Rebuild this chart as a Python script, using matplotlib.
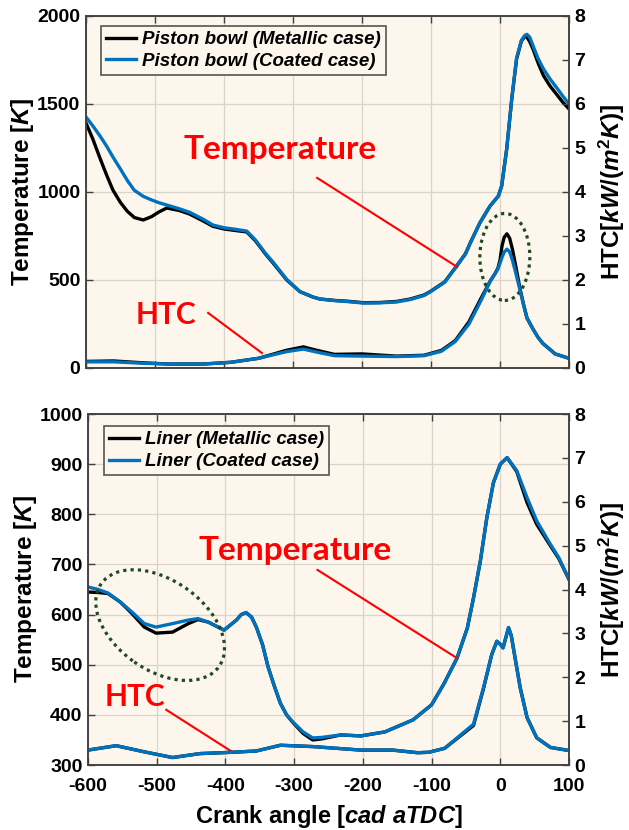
import matplotlib
matplotlib.use("Agg")
import matplotlib.pyplot as plt
from matplotlib.patches import Ellipse
from matplotlib.transforms import ScaledTranslation

plt.rcParams['font.family'] = ['Liberation Sans', 'DejaVu Sans']
plt.rcParams['axes.unicode_minus'] = False
plt.rcParams['mathtext.fontset'] = 'custom'
plt.rcParams['mathtext.rm'] = 'Liberation Sans:bold'
plt.rcParams['mathtext.it'] = 'Liberation Sans:italic:bold'
plt.rcParams['mathtext.bf'] = 'Liberation Sans:bold'

# ---- piston bowl (top) ----
pb_ang_T = [-600, -590, -580, -570, -561, -550, -540, -530, -517, -505, -495, -483, -465, -450,
            -430, -416, -400, -385, -367, -355, -348, -340, -329, -309, -290, -271, -261, -240,
            -220, -198, -175, -150, -130, -110, -100, -80, -63, -50, -43, -29, -14.5, -2.4, 2.4,
            9.7, 17, 24, 31, 36, 39, 43, 48, 55, 63, 72, 82, 91, 100]
pb_T_metal = [1392, 1300, 1195, 1095, 1011, 940, 890, 855, 841, 860, 885, 909, 895, 875,
              835, 805, 790, 782, 773, 725, 690, 648, 597, 500, 434, 403, 392, 384,
              379, 371, 372, 378, 392, 415, 437, 490, 579, 650, 712, 826, 920, 977, 1034,
              1244, 1528, 1755, 1858, 1883, 1880, 1855, 1811, 1735, 1661, 1605, 1555, 1510, 1472]
pb_T_coat = [1426, 1375, 1320, 1260, 1199, 1130, 1065, 1010, 975, 955, 940, 926, 905, 885,
             845, 812, 797, 789, 778, 730, 694, 652, 602, 503, 434, 403, 392, 383,
             377, 369, 370, 375, 389, 412, 435, 488, 577, 648, 710, 826, 920, 977, 1034,
             1244, 1528, 1760, 1862, 1890, 1896, 1880, 1830, 1760, 1699, 1645, 1593, 1545, 1500]

pb_ang_H = [-600, -560, -520, -480, -430, -390, -350, -310, -285, -265, -240, -200, -150,
            -110, -85, -65, -45, -27, -14, -7, -3, 0, 3, 6, 10, 14, 18, 23, 29, 34, 39, 48,
            55, 62, 80, 100]
pb_H_metal = [0.15, 0.16, 0.12, 0.09, 0.09, 0.13, 0.22, 0.40, 0.48, 0.40, 0.31, 0.32, 0.27,
              0.29, 0.40, 0.62, 1.05, 1.60, 1.98, 2.15, 2.27, 2.45, 2.78, 2.97, 3.05, 2.95,
              2.70, 2.30, 1.80, 1.45, 1.14, 0.88, 0.70, 0.56, 0.32, 0.22]
pb_H_coat = [0.14, 0.14, 0.11, 0.09, 0.09, 0.13, 0.22, 0.37, 0.43, 0.36, 0.28, 0.27, 0.26,
             0.28, 0.38, 0.60, 1.00, 1.55, 1.98, 2.15, 2.25, 2.38, 2.52, 2.63, 2.70, 2.64,
             2.45, 2.15, 1.77, 1.45, 1.14, 0.88, 0.70, 0.56, 0.32, 0.22]

# ---- liner (bottom) ----
ln_ang_T = [-600, -585, -571, -553, -536, -518, -501, -477, -454, -440, -425, -402, -384, -377,
            -370, -362, -355, -346, -338, -329, -320, -311, -302, -287, -273, -260, -232, -203,
            -168, -127, -100, -82, -63, -48, -39, -29, -19.6, -10, 0, 10, 24, 39, 53, 73, 85,
            100]
ln_T_metal = [645, 644, 642, 625, 602, 575, 563, 565, 582, 590, 585, 569, 589, 600,
              604, 595, 575, 540, 496, 458, 423, 400, 385, 363, 350, 352, 360, 358,
              366, 390, 420, 462, 513, 573, 633, 707, 793, 863, 900, 913, 885, 823, 780, 737,
              712, 670]
ln_T_coat = [655, 650, 643, 625, 605, 582, 575, 582, 589, 592, 585, 569, 589, 600,
             604, 595, 575, 540, 496, 458, 423, 400, 386, 366, 354, 355, 360, 358,
             366, 390, 420, 462, 513, 573, 633, 707, 793, 863, 900, 913, 887, 833, 787, 740,
             714, 670]

ln_ang_H = [-600, -559, -518, -477, -437, -390, -355, -320, -273, -203, -157, -120, -104,
            -81, -39, -24.5, -12.4, -5, 0, 4, 8, 12, 16, 19, 29, 39, 53, 73, 100]
ln_H_metal = [0.34, 0.44, 0.30, 0.17, 0.26, 0.29, 0.32, 0.45, 0.42, 0.34, 0.34, 0.28, 0.29,
              0.38, 0.90, 1.74, 2.52, 2.82, 2.75, 2.67, 2.90, 3.13, 2.95, 2.67, 1.76, 1.08,
              0.62, 0.40, 0.33]
ln_H_coat = [0.34, 0.44, 0.30, 0.17, 0.26, 0.29, 0.32, 0.45, 0.42, 0.34, 0.34, 0.28, 0.29,
             0.38, 0.93, 1.76, 2.52, 2.82, 2.75, 2.67, 2.90, 3.13, 2.95, 2.67, 1.76, 1.08,
             0.62, 0.40, 0.33]

x_ticks = [-600, -500, -400, -300, -200, -100, 0, 100]

BG = '#FDF6EC'
BLUE = '#0072BD'
SPINE = '#404040'
GREEN = '#1F4A1F'
LW = 2.4

fig = plt.figure(figsize=(6.29, 8.3), dpi=100)
ax_top = fig.add_axes([86 / 629, 1 - 368 / 830, 483 / 629, 352 / 830])
ax_bot = fig.add_axes([88 / 629, 1 - 765 / 830, 481 / 629, 351 / 830])


def style(ax, ax2, ylim, yticks):
    ax.set_facecolor(BG)
    ax.set_xlim(-600, 100)
    ax.set_xticks(x_ticks)
    ax.set_ylim(*ylim)
    ax.set_yticks(yticks)
    ax2.set_ylim(0, 8)
    ax2.set_yticks(range(0, 9))
    ax.grid(True, color='#DAD4CB', lw=0.9)
    ax.tick_params(direction='in', length=5, width=1, color=SPINE, top=True, right=False,
                   labelsize=14, pad=4)
    ax.tick_params(axis='x', pad=9)
    ax2.tick_params(direction='in', length=5, width=1, color=SPINE, labelsize=14, pad=4)
    for a in (ax, ax2):
        for s in a.spines.values():
            s.set_color(SPINE)
            s.set_linewidth(1.1)
        for lab in a.get_xticklabels() + a.get_yticklabels():
            lab.set_fontweight('bold')
    ax.set_ylabel('Temperature [$K$]', fontsize=17.5, fontweight='bold', labelpad=0.5)
    ax2.set_ylabel('HTC[$kW/(m^2K)$]', fontsize=17.5, fontweight='bold', labelpad=8)


leg_font = {'family': 'Liberation Sans', 'weight': 'bold', 'style': 'italic', 'size': 13.5}
leg_kw = dict(loc='upper left', borderaxespad=0, prop=leg_font, fancybox=False, framealpha=1,
              facecolor=BG, edgecolor='#555555', handlelength=1.6, handletextpad=0.3,
              labelspacing=0.25, borderpad=0.28)

# top panel
ax2_top = ax_top.twinx()
style(ax_top, ax2_top, (0, 2000), [0, 500, 1000, 1500, 2000])
ax_top.tick_params(labelbottom=False)
ax_top.plot(pb_ang_T, pb_T_metal, color='black', lw=LW, label='Piston bowl (Metallic case)')
ax_top.plot(pb_ang_T, pb_T_coat, color=BLUE, lw=LW, label='Piston bowl (Coated case)')
ax2_top.plot(pb_ang_H, pb_H_metal, color='black', lw=LW)
ax2_top.plot(pb_ang_H, pb_H_coat, color=BLUE, lw=LW)

leg = ax_top.legend(bbox_to_anchor=(0.031, 0.972), **leg_kw)
leg.get_frame().set_linewidth(1.2)

ax_top.text(-319, 1239, 'Temperature', color='red', fontsize=24, fontweight='bold',
            family='Lato', ha='center', va='center')
ax_top.plot([-265, -62], [1080, 574], color='red', lw=1.5)
ax_top.text(-484, 301, 'HTC', color='red', fontsize=21.5, fontweight='bold',
            family='Lato', ha='center', va='center')
ax_top.plot([-423, -345], [313, 85], color='red', lw=1.5)

ax2_top.add_patch(Ellipse((0, 0), 0.50, 0.87, fill=False, ec=GREEN, lw=2.3,
                          ls=(0, (1, 1.3)),
                          transform=fig.dpi_scale_trans + ScaledTranslation(7, 631, ax_top.transData)))

# bottom panel
ax2_bot = ax_bot.twinx()
style(ax_bot, ax2_bot, (300, 1000), list(range(300, 1001, 100)))
ax_bot.plot(ln_ang_T, ln_T_metal, color='black', lw=LW, label='Liner (Metallic case)')
ax_bot.plot(ln_ang_T, ln_T_coat, color=BLUE, lw=LW, label='Liner (Coated case)')
ax2_bot.plot(ln_ang_H, ln_H_metal, color='black', lw=LW)
ax2_bot.plot(ln_ang_H, ln_H_coat, color=BLUE, lw=LW)
ax_bot.set_xlabel('Crank angle [$cad\\ aTDC$]', fontsize=17, fontweight='bold', labelpad=6)

leg = ax_bot.legend(bbox_to_anchor=(0.033, 0.966), **leg_kw)
leg.get_frame().set_linewidth(1.2)

ax_bot.text(-298, 727, 'Temperature', color='red', fontsize=24, fontweight='bold',
            family='Lato', ha='center', va='center')
ax_bot.plot([-266, -64], [689, 514], color='red', lw=1.5)
ax_bot.text(-531, 436, 'HTC', color='red', fontsize=21.5, fontweight='bold',
            family='Lato', ha='center', va='center')
ax_bot.plot([-486, -390], [410, 326], color='red', lw=1.5)

ax2_bot.add_patch(Ellipse((0, 0), 1.44, 0.90, angle=-35, fill=False, ec=GREEN, lw=2.3,
                          ls=(0, (1, 1.3)),
                          transform=fig.dpi_scale_trans + ScaledTranslation(-495, 579, ax_bot.transData)))

fig.savefig('out.png', dpi=100, facecolor='white')
